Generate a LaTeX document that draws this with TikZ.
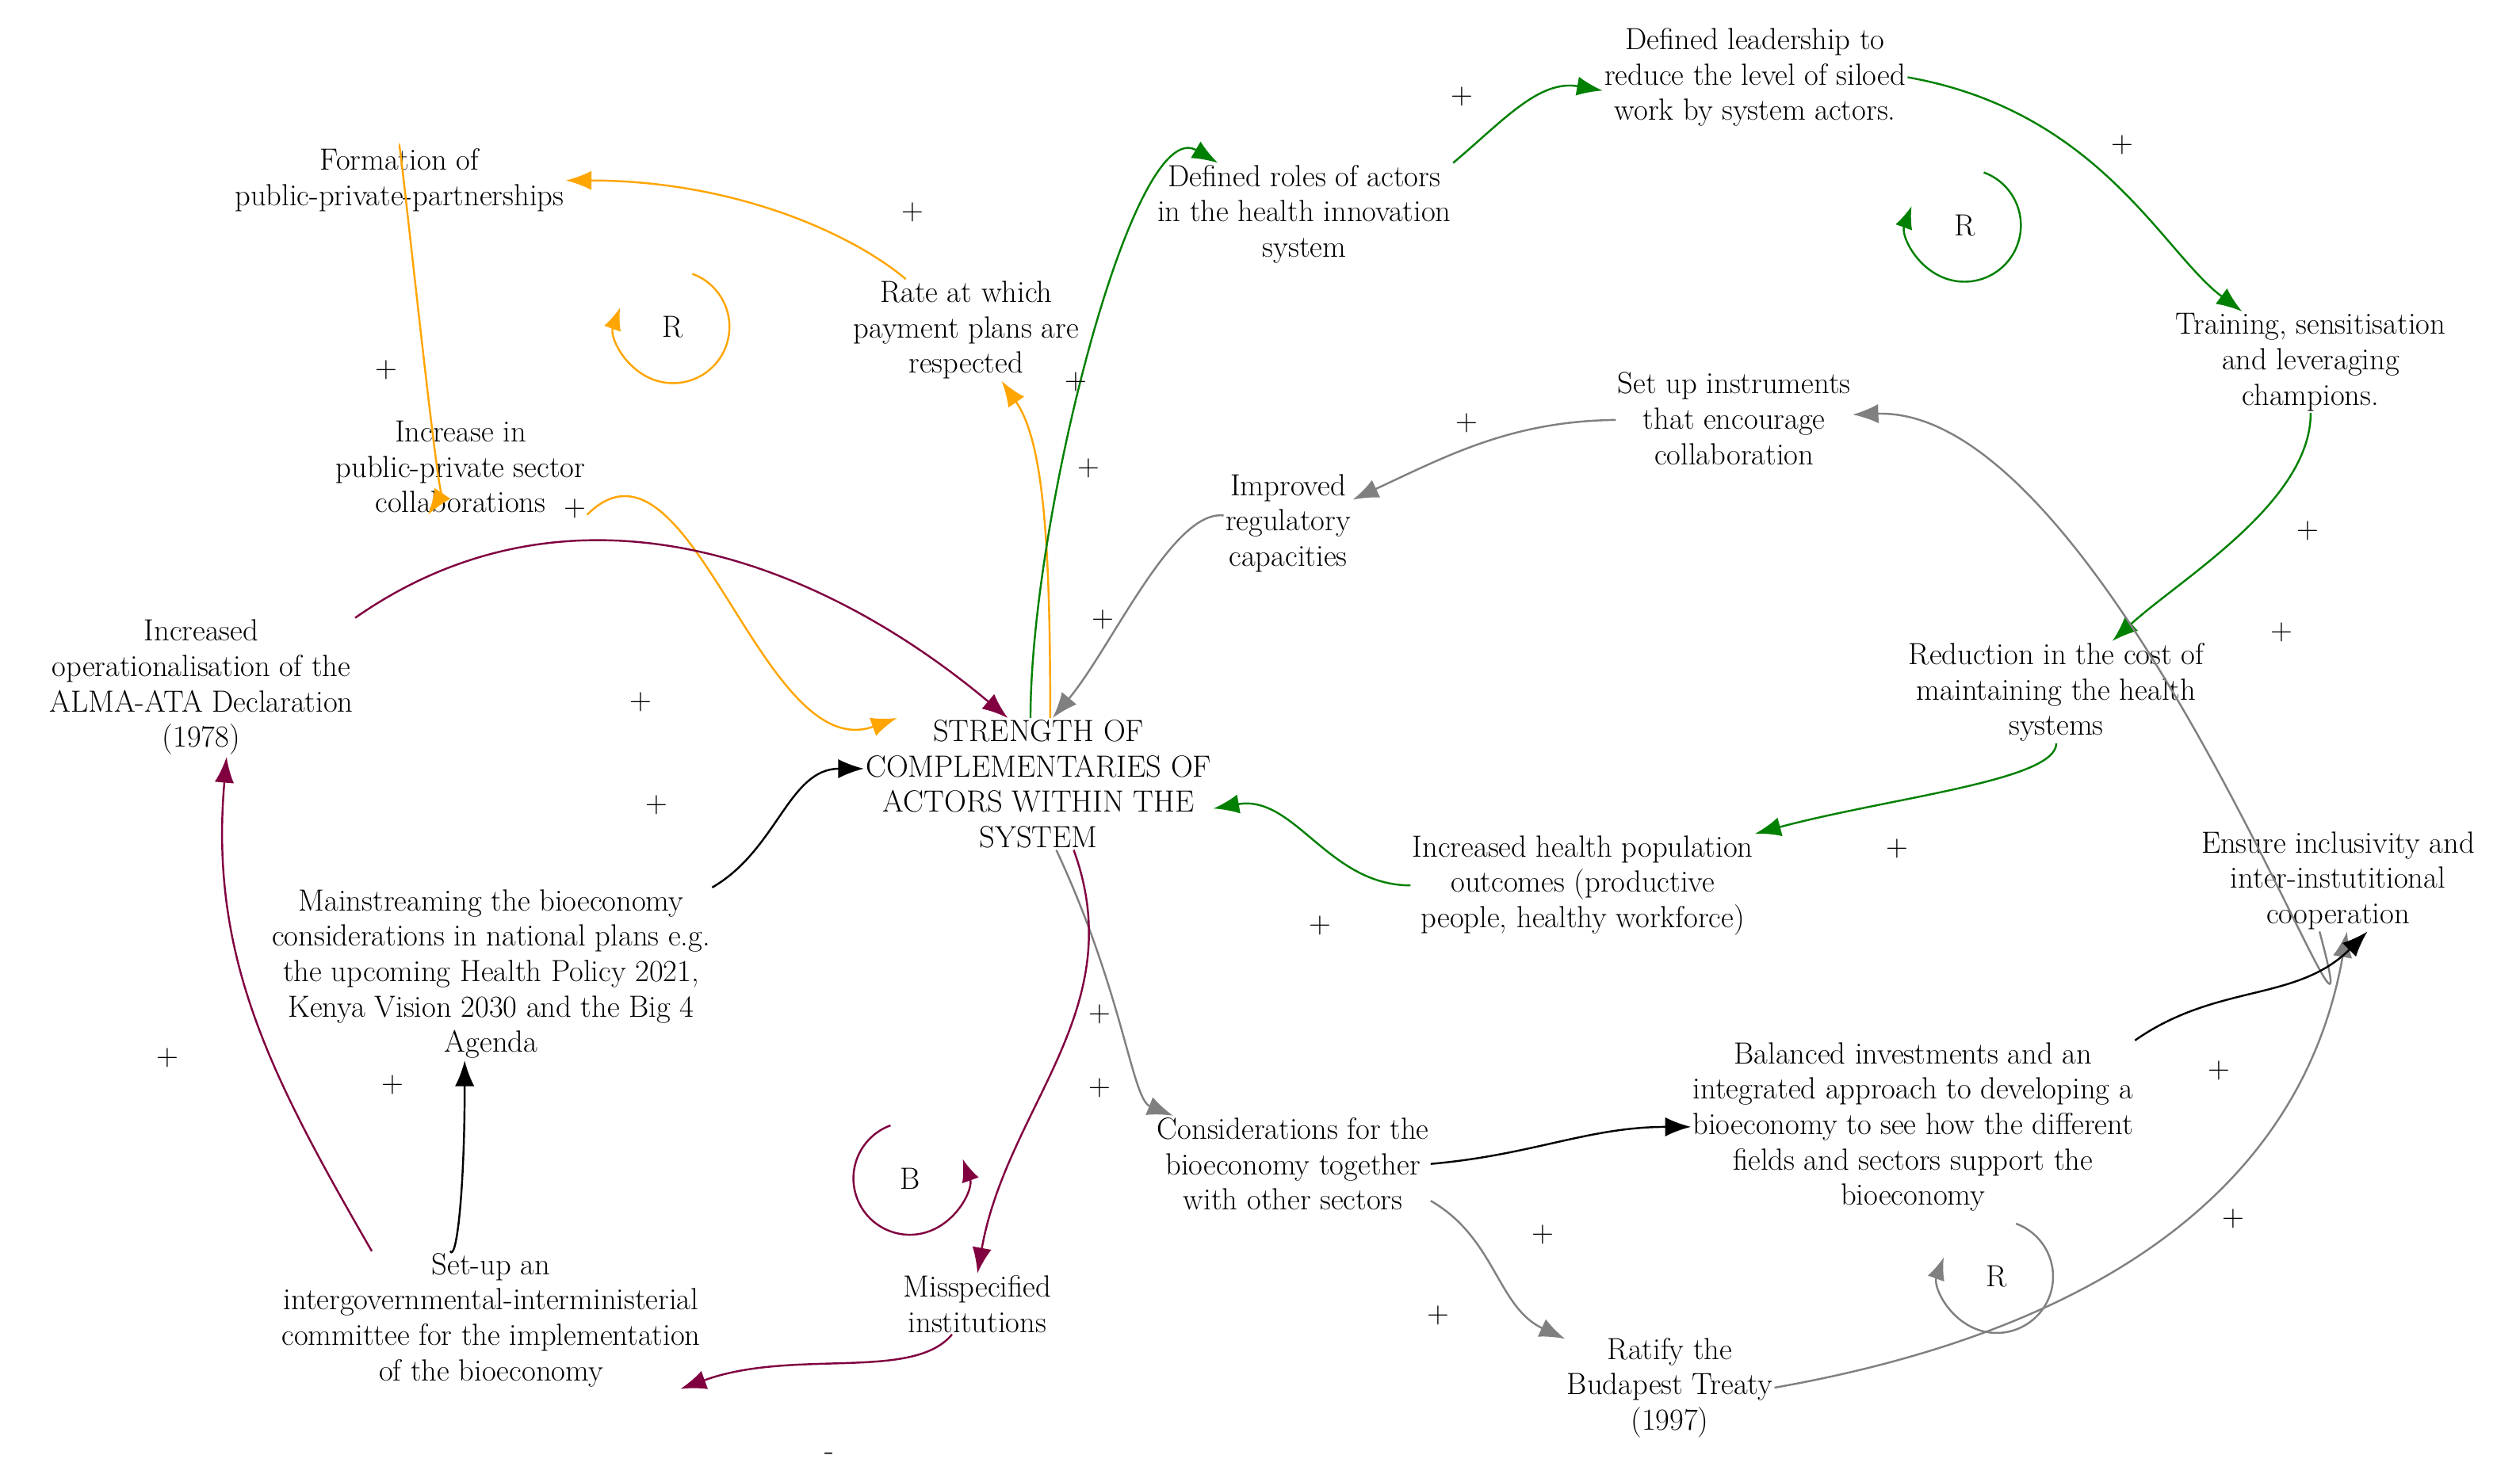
\documentclass[tikz,border=0pt]{standalone}
\usetikzlibrary{arrows.meta}
\definecolor{cldorange}{RGB}{255,165,0}
\definecolor{cldgreen}{RGB}{0,128,0}
\definecolor{cldpurple}{RGB}{128,0,64}
\definecolor{cldgray}{RGB}{128,128,128}
\tikzset{
  var/.style={align=center,inner sep=1pt,font=\fontsize{19}{22}\selectfont},
  pol/.style={font=\fontsize{19}{19}\selectfont,inner sep=0pt},
  link/.style={line width=1.2pt,-{Latex[length=16pt,width=12pt]}},
  loop/.style={line width=1.2pt,-{Latex[length=14pt,width=11pt]}},
}
\begin{document}
\begin{tikzpicture}[x=1pt,y=1pt,yscale=-1]
\useasboundingbox (0,0) rectangle (1565,918);
% Variables
\node[var] (form) at (248,112) {Formation of\\public-private-partnerships};
\node[var] (incr) at (286,290) {Increase in\\public-private sector\\collaborations};
\node[var] (rate) at (600,205) {Rate at which\\payment plans are\\respected};
\node[var] (roles) at (810,133) {Defined roles of actors\\in the health innovation\\system};
\node[var] (lead) at (1090,48) {Defined leadership to\\reduce the level of siloed\\work by system actors.};
\node[var] (train) at (1435,225) {Training, sensitisation\\and leveraging\\champions.};
\node[var] (instr) at (1077,260) {Set up instruments\\that encourage\\collaboration};
\node[var] (impr) at (800,325) {Improved\\regulatory\\capacities};
\node[var] (alma) at (125,427) {Increased\\operationalisation of the\\ALMA-ATA Declaration\\(1978)};
\node[var] (strength) at (645,487) {STRENGTH OF\\COMPLEMENTARIES OF\\ACTORS WITHIN THE\\SYSTEM};
\node[var] (reduc) at (1277,430) {Reduction in the cost of\\maintaining the health\\systems};
\node[var] (health) at (983,550) {Increased health population\\outcomes (productive\\people, healthy workforce)};
\node[var] (ensure) at (1452,547) {Ensure inclusivity and\\inter-instutitional\\cooperation};
\node[var] (mainst) at (305,605) {Mainstreaming the bioeconomy\\considerations in national plans e.g.\\the upcoming Health Policy 2021,\\Kenya Vision 2030 and the Big 4\\Agenda};
\node[var] (consid) at (803,723) {Considerations for the\\bioeconomy together\\with other sectors};
\node[var] (bal) at (1188,700) {Balanced investments and an\\integrated approach to developing a\\bioeconomy to see how the different\\fields and sectors support the\\bioeconomy};
\node[var] (committee) at (305,820) {Set-up an\\intergovernmental-interministerial\\committee for the implementation\\of the bioeconomy};
\node[var] (missp) at (607,810) {Misspecified\\institutions};
\node[var] (ratify) at (1037,862) {Ratify the\\Budapest Treaty\\(1997)};

% Orange loop
\draw[link,cldorange] (rate) to[out=240,in=10] (form);
\draw[link,cldorange] (form) to[out=270,in=100] (incr);
\draw[link,cldorange] (incr.south east) to[out=-45,in=160] (strength.155);
\draw[link,cldorange] (strength.80) to[out=-90,in=70] (rate);
% Green loop
\draw[link,cldgreen] (strength.97) to[out=-90,in=230] (roles);
\draw[link,cldgreen] (roles.north east) to[out=-40,in=190] (lead.185);
\draw[link,cldgreen] (lead.east) to[out=10,in=235] (train);
\draw[link,cldgreen] (train) to[out=90,in=-60] (reduc);
\draw[link,cldgreen] (reduc) to[out=90,in=-15] (health.north east);
\draw[link,cldgreen] (health) to[out=180,in=-10] (strength.-8);
% Gray links
\draw[link,cldgray] (instr) to[out=190,in=-25] (impr.20);
\draw[link,cldgray] (impr) to[out=90+135,in=-50] (strength.78);
\draw[link,cldgray] (strength.-75) to[out=65,in=-135] (consid);
\draw[link,cldgray] (consid.-15) to[out=30,in=-155] (ratify.155);
\draw[link,cldgray] (ratify.east) to[out=-10,in=100] (ensure.-80);
\draw[link,cldgray] (ensure.-110) to[out=75,in=-5] (instr);
% Black links
\draw[link,black] (mainst.north east) to[out=-30,in=180] (strength.175);
\draw[link,black] (committee) to[out=-100,in=90] (mainst.-107);
\draw[link,black] (consid.east) to[out=-5,in=180] (bal.west);
\draw[link,black] (bal.north east) to[out=-35,in=135] (ensure.-60);
% Purple loop
\draw[link,cldpurple] (alma.north east) to[out=-35,in=-140] (strength.115);
\draw[link,cldpurple] (strength.-62) to[out=70,in=-80] (missp.north);
\draw[link,cldpurple] (missp) to[out=115,in=-20] (committee.-20);
\draw[link,cldpurple] (committee.150) to[out=-120,in=95] (alma.-70);

% Loop markers
\draw[loop,cldorange] (418,203) ++(290:35) arc[start angle=290,end angle=560,radius=35];
\node[pol] at (418,203) {R};
\draw[loop,cldgreen] (1220,140) ++(290:35) arc[start angle=290,end angle=560,radius=35];
\node[pol] at (1220,140) {R};
\draw[loop,cldpurple] (565,732) ++(250:35) arc[start angle=250,end angle=-20,radius=35];
\node[pol] at (565,732) {B};
\draw[loop,cldgray] (1240,793) ++(290:35) arc[start angle=290,end angle=560,radius=35];
\node[pol] at (1240,793) {R};

% Polarities
\foreach \px/\py in {567/132,240/230,357/316,398/436,668/237,676/291,908/60,1318/90,
  1433/330,1178/527,820/575,911/263,685/385,683/630,893/817,1387/757,1417/393,
  408/500,244/674,958/767,1378/665,683/676,104/657}
  \node[pol] at (\px,\py) {+};
\node[pol] at (515,905) {-};
\end{tikzpicture}
\end{document}
